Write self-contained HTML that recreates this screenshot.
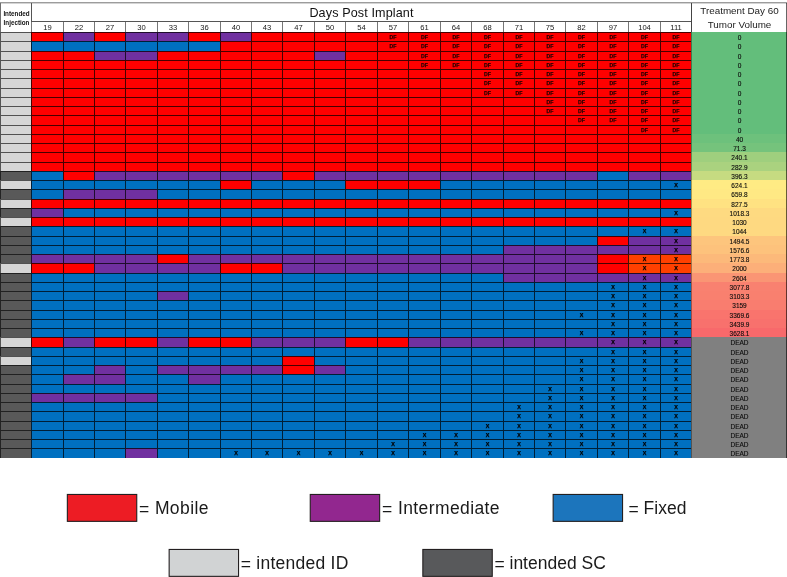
<!DOCTYPE html>
<html><head><meta charset="utf-8"><title>Days Post Implant</title>
<style>
html,body{margin:0;padding:0;background:#fff;}
body{width:787px;height:577px;overflow:hidden;position:relative;font-family:"Liberation Sans",sans-serif;color:#111;}
#w{position:absolute;left:0;top:0;width:787px;height:577px;overflow:hidden;will-change:transform;}
#w div{position:absolute;box-sizing:border-box;}
.c{border-left:1px solid rgba(0,0,0,.72);border-top:1px solid rgba(0,0,0,.72);text-align:center;font-weight:bold;overflow:hidden;white-space:nowrap;}
.r{background:#ff0000}.b{background:#0070c0}.p{background:#7030a0}.o{background:#ff4000}
.df{font-size:5.2px;line-height:9.4px;color:#2a0000;-webkit-text-stroke:0.25px #2a0000;}
.x{font-size:5.4px;line-height:8.4px;color:#000;-webkit-text-stroke:0.25px #000;}
.l{border-top:1px solid rgba(0,0,0,.62);border-left:1px solid rgba(0,0,0,.6);border-right:1px solid rgba(0,0,0,.8);}
.lg{background:#d6d6d6}.dg{background:#595959}
.v{text-align:center;font-size:6.5px;line-height:12.4px;padding-left:1px;color:#0c0c0c;-webkit-text-stroke:0.12px #0c0c0c;white-space:nowrap;overflow:hidden;}
.d{background:#fff;border-left:1px solid #777;text-align:center;font-size:7.6px;line-height:11px;color:#151515;}
.lb{font-size:17.5px;line-height:20px;color:#1a1a1a;white-space:nowrap;}
.bx{border:1px solid #231f20;}
</style></head><body><div id="w">

<div style="left:0;top:2px;width:787px;height:1px;background:#9c9c9c"></div>
<div style="left:0;top:3px;width:787px;height:1px;background:#d4d4d4"></div>
<div style="left:0;top:3px;width:32px;height:29px;border-left:1px solid #6e6e6e;border-right:1px solid #555;font-weight:bold;font-size:6.3px;line-height:9px;text-align:center;padding-top:6px;padding-left:1px;color:#111">Intended<br>Injection</div>
<div style="left:32px;top:3px;width:659px;height:18px;text-align:center;font-size:12.6px;letter-spacing:0.12px;line-height:18px;color:#111;padding-top:1px">Days Post Implant</div>
<div style="left:31px;top:21px;width:660px;height:1px;background:#555"></div>
<div class="d" style="left:31px;top:22px;width:32px;height:10px">19</div>
<div class="d" style="left:63px;top:22px;width:31px;height:10px">22</div>
<div class="d" style="left:94px;top:22px;width:31px;height:10px">27</div>
<div class="d" style="left:125px;top:22px;width:32px;height:10px">30</div>
<div class="d" style="left:157px;top:22px;width:31px;height:10px">33</div>
<div class="d" style="left:188px;top:22px;width:32px;height:10px">36</div>
<div class="d" style="left:220px;top:22px;width:31px;height:10px">40</div>
<div class="d" style="left:251px;top:22px;width:31px;height:10px">43</div>
<div class="d" style="left:282px;top:22px;width:32px;height:10px">47</div>
<div class="d" style="left:314px;top:22px;width:31px;height:10px">50</div>
<div class="d" style="left:345px;top:22px;width:32px;height:10px">54</div>
<div class="d" style="left:377px;top:22px;width:31px;height:10px">57</div>
<div class="d" style="left:408px;top:22px;width:32px;height:10px">61</div>
<div class="d" style="left:440px;top:22px;width:31px;height:10px">64</div>
<div class="d" style="left:471px;top:22px;width:32px;height:10px">68</div>
<div class="d" style="left:503px;top:22px;width:31px;height:10px">71</div>
<div class="d" style="left:534px;top:22px;width:31px;height:10px">75</div>
<div class="d" style="left:565px;top:22px;width:32px;height:10px">82</div>
<div class="d" style="left:597px;top:22px;width:31px;height:10px">97</div>
<div class="d" style="left:628px;top:22px;width:32px;height:10px">104</div>
<div class="d" style="left:660px;top:22px;width:31px;height:10px">111</div>
<div style="left:691px;top:3px;width:96px;height:29px;border-left:1px solid #444;text-align:center;font-size:9.85px;line-height:13.6px;color:#222;padding-top:1px">Treatment Day 60<br>Tumor Volume</div>
<div style="left:0;top:32px;width:787px;height:1px;background:#444"></div>
<div class="l lg" style="left:0;top:32px;width:32px;height:9px"></div>
<div class="c r" style="left:31px;top:32px;width:32px;height:9px"></div>
<div class="c p" style="left:63px;top:32px;width:31px;height:9px"></div>
<div class="c r" style="left:94px;top:32px;width:31px;height:9px"></div>
<div class="c p" style="left:125px;top:32px;width:32px;height:9px"></div>
<div class="c p" style="left:157px;top:32px;width:31px;height:9px"></div>
<div class="c r" style="left:188px;top:32px;width:32px;height:9px"></div>
<div class="c p" style="left:220px;top:32px;width:31px;height:9px"></div>
<div class="c r" style="left:251px;top:32px;width:31px;height:9px"></div>
<div class="c r" style="left:282px;top:32px;width:32px;height:9px"></div>
<div class="c r" style="left:314px;top:32px;width:31px;height:9px"></div>
<div class="c r" style="left:345px;top:32px;width:32px;height:9px"></div>
<div class="c r df" style="left:377px;top:32px;width:31px;height:9px">DF</div>
<div class="c r df" style="left:408px;top:32px;width:32px;height:9px">DF</div>
<div class="c r df" style="left:440px;top:32px;width:31px;height:9px">DF</div>
<div class="c r df" style="left:471px;top:32px;width:32px;height:9px">DF</div>
<div class="c r df" style="left:503px;top:32px;width:31px;height:9px">DF</div>
<div class="c r df" style="left:534px;top:32px;width:31px;height:9px">DF</div>
<div class="c r df" style="left:565px;top:32px;width:32px;height:9px">DF</div>
<div class="c r df" style="left:597px;top:32px;width:31px;height:9px">DF</div>
<div class="c r df" style="left:628px;top:32px;width:32px;height:9px">DF</div>
<div class="c r df" style="left:660px;top:32px;width:31px;height:9px">DF</div>
<div class="v" style="left:691px;top:32px;width:96px;height:9px;background:#63be7b">0</div>
<div class="l lg" style="left:0;top:41px;width:32px;height:10px"></div>
<div class="c b" style="left:31px;top:41px;width:32px;height:10px"></div>
<div class="c b" style="left:63px;top:41px;width:31px;height:10px"></div>
<div class="c b" style="left:94px;top:41px;width:31px;height:10px"></div>
<div class="c b" style="left:125px;top:41px;width:32px;height:10px"></div>
<div class="c b" style="left:157px;top:41px;width:31px;height:10px"></div>
<div class="c b" style="left:188px;top:41px;width:32px;height:10px"></div>
<div class="c r" style="left:220px;top:41px;width:31px;height:10px"></div>
<div class="c r" style="left:251px;top:41px;width:31px;height:10px"></div>
<div class="c r" style="left:282px;top:41px;width:32px;height:10px"></div>
<div class="c r" style="left:314px;top:41px;width:31px;height:10px"></div>
<div class="c r" style="left:345px;top:41px;width:32px;height:10px"></div>
<div class="c r df" style="left:377px;top:41px;width:31px;height:10px">DF</div>
<div class="c r df" style="left:408px;top:41px;width:32px;height:10px">DF</div>
<div class="c r df" style="left:440px;top:41px;width:31px;height:10px">DF</div>
<div class="c r df" style="left:471px;top:41px;width:32px;height:10px">DF</div>
<div class="c r df" style="left:503px;top:41px;width:31px;height:10px">DF</div>
<div class="c r df" style="left:534px;top:41px;width:31px;height:10px">DF</div>
<div class="c r df" style="left:565px;top:41px;width:32px;height:10px">DF</div>
<div class="c r df" style="left:597px;top:41px;width:31px;height:10px">DF</div>
<div class="c r df" style="left:628px;top:41px;width:32px;height:10px">DF</div>
<div class="c r df" style="left:660px;top:41px;width:31px;height:10px">DF</div>
<div class="v" style="left:691px;top:41px;width:96px;height:10px;background:#63be7b">0</div>
<div class="l lg" style="left:0;top:51px;width:32px;height:9px"></div>
<div class="c r" style="left:31px;top:51px;width:32px;height:9px"></div>
<div class="c r" style="left:63px;top:51px;width:31px;height:9px"></div>
<div class="c p" style="left:94px;top:51px;width:31px;height:9px"></div>
<div class="c p" style="left:125px;top:51px;width:32px;height:9px"></div>
<div class="c r" style="left:157px;top:51px;width:31px;height:9px"></div>
<div class="c r" style="left:188px;top:51px;width:32px;height:9px"></div>
<div class="c r" style="left:220px;top:51px;width:31px;height:9px"></div>
<div class="c r" style="left:251px;top:51px;width:31px;height:9px"></div>
<div class="c r" style="left:282px;top:51px;width:32px;height:9px"></div>
<div class="c p" style="left:314px;top:51px;width:31px;height:9px"></div>
<div class="c r" style="left:345px;top:51px;width:32px;height:9px"></div>
<div class="c r" style="left:377px;top:51px;width:31px;height:9px"></div>
<div class="c r df" style="left:408px;top:51px;width:32px;height:9px">DF</div>
<div class="c r df" style="left:440px;top:51px;width:31px;height:9px">DF</div>
<div class="c r df" style="left:471px;top:51px;width:32px;height:9px">DF</div>
<div class="c r df" style="left:503px;top:51px;width:31px;height:9px">DF</div>
<div class="c r df" style="left:534px;top:51px;width:31px;height:9px">DF</div>
<div class="c r df" style="left:565px;top:51px;width:32px;height:9px">DF</div>
<div class="c r df" style="left:597px;top:51px;width:31px;height:9px">DF</div>
<div class="c r df" style="left:628px;top:51px;width:32px;height:9px">DF</div>
<div class="c r df" style="left:660px;top:51px;width:31px;height:9px">DF</div>
<div class="v" style="left:691px;top:51px;width:96px;height:9px;background:#63be7b">0</div>
<div class="l lg" style="left:0;top:60px;width:32px;height:9px"></div>
<div class="c r" style="left:31px;top:60px;width:32px;height:9px"></div>
<div class="c r" style="left:63px;top:60px;width:31px;height:9px"></div>
<div class="c r" style="left:94px;top:60px;width:31px;height:9px"></div>
<div class="c r" style="left:125px;top:60px;width:32px;height:9px"></div>
<div class="c r" style="left:157px;top:60px;width:31px;height:9px"></div>
<div class="c r" style="left:188px;top:60px;width:32px;height:9px"></div>
<div class="c r" style="left:220px;top:60px;width:31px;height:9px"></div>
<div class="c r" style="left:251px;top:60px;width:31px;height:9px"></div>
<div class="c r" style="left:282px;top:60px;width:32px;height:9px"></div>
<div class="c r" style="left:314px;top:60px;width:31px;height:9px"></div>
<div class="c r" style="left:345px;top:60px;width:32px;height:9px"></div>
<div class="c r" style="left:377px;top:60px;width:31px;height:9px"></div>
<div class="c r df" style="left:408px;top:60px;width:32px;height:9px">DF</div>
<div class="c r df" style="left:440px;top:60px;width:31px;height:9px">DF</div>
<div class="c r df" style="left:471px;top:60px;width:32px;height:9px">DF</div>
<div class="c r df" style="left:503px;top:60px;width:31px;height:9px">DF</div>
<div class="c r df" style="left:534px;top:60px;width:31px;height:9px">DF</div>
<div class="c r df" style="left:565px;top:60px;width:32px;height:9px">DF</div>
<div class="c r df" style="left:597px;top:60px;width:31px;height:9px">DF</div>
<div class="c r df" style="left:628px;top:60px;width:32px;height:9px">DF</div>
<div class="c r df" style="left:660px;top:60px;width:31px;height:9px">DF</div>
<div class="v" style="left:691px;top:60px;width:96px;height:9px;background:#63be7b">0</div>
<div class="l lg" style="left:0;top:69px;width:32px;height:9px"></div>
<div class="c r" style="left:31px;top:69px;width:32px;height:9px"></div>
<div class="c r" style="left:63px;top:69px;width:31px;height:9px"></div>
<div class="c r" style="left:94px;top:69px;width:31px;height:9px"></div>
<div class="c r" style="left:125px;top:69px;width:32px;height:9px"></div>
<div class="c r" style="left:157px;top:69px;width:31px;height:9px"></div>
<div class="c r" style="left:188px;top:69px;width:32px;height:9px"></div>
<div class="c r" style="left:220px;top:69px;width:31px;height:9px"></div>
<div class="c r" style="left:251px;top:69px;width:31px;height:9px"></div>
<div class="c r" style="left:282px;top:69px;width:32px;height:9px"></div>
<div class="c r" style="left:314px;top:69px;width:31px;height:9px"></div>
<div class="c r" style="left:345px;top:69px;width:32px;height:9px"></div>
<div class="c r" style="left:377px;top:69px;width:31px;height:9px"></div>
<div class="c r" style="left:408px;top:69px;width:32px;height:9px"></div>
<div class="c r" style="left:440px;top:69px;width:31px;height:9px"></div>
<div class="c r df" style="left:471px;top:69px;width:32px;height:9px">DF</div>
<div class="c r df" style="left:503px;top:69px;width:31px;height:9px">DF</div>
<div class="c r df" style="left:534px;top:69px;width:31px;height:9px">DF</div>
<div class="c r df" style="left:565px;top:69px;width:32px;height:9px">DF</div>
<div class="c r df" style="left:597px;top:69px;width:31px;height:9px">DF</div>
<div class="c r df" style="left:628px;top:69px;width:32px;height:9px">DF</div>
<div class="c r df" style="left:660px;top:69px;width:31px;height:9px">DF</div>
<div class="v" style="left:691px;top:69px;width:96px;height:9px;background:#63be7b">0</div>
<div class="l lg" style="left:0;top:78px;width:32px;height:10px"></div>
<div class="c r" style="left:31px;top:78px;width:32px;height:10px"></div>
<div class="c r" style="left:63px;top:78px;width:31px;height:10px"></div>
<div class="c r" style="left:94px;top:78px;width:31px;height:10px"></div>
<div class="c r" style="left:125px;top:78px;width:32px;height:10px"></div>
<div class="c r" style="left:157px;top:78px;width:31px;height:10px"></div>
<div class="c r" style="left:188px;top:78px;width:32px;height:10px"></div>
<div class="c r" style="left:220px;top:78px;width:31px;height:10px"></div>
<div class="c r" style="left:251px;top:78px;width:31px;height:10px"></div>
<div class="c r" style="left:282px;top:78px;width:32px;height:10px"></div>
<div class="c r" style="left:314px;top:78px;width:31px;height:10px"></div>
<div class="c r" style="left:345px;top:78px;width:32px;height:10px"></div>
<div class="c r" style="left:377px;top:78px;width:31px;height:10px"></div>
<div class="c r" style="left:408px;top:78px;width:32px;height:10px"></div>
<div class="c r" style="left:440px;top:78px;width:31px;height:10px"></div>
<div class="c r df" style="left:471px;top:78px;width:32px;height:10px">DF</div>
<div class="c r df" style="left:503px;top:78px;width:31px;height:10px">DF</div>
<div class="c r df" style="left:534px;top:78px;width:31px;height:10px">DF</div>
<div class="c r df" style="left:565px;top:78px;width:32px;height:10px">DF</div>
<div class="c r df" style="left:597px;top:78px;width:31px;height:10px">DF</div>
<div class="c r df" style="left:628px;top:78px;width:32px;height:10px">DF</div>
<div class="c r df" style="left:660px;top:78px;width:31px;height:10px">DF</div>
<div class="v" style="left:691px;top:78px;width:96px;height:10px;background:#63be7b">0</div>
<div class="l lg" style="left:0;top:88px;width:32px;height:9px"></div>
<div class="c r" style="left:31px;top:88px;width:32px;height:9px"></div>
<div class="c r" style="left:63px;top:88px;width:31px;height:9px"></div>
<div class="c r" style="left:94px;top:88px;width:31px;height:9px"></div>
<div class="c r" style="left:125px;top:88px;width:32px;height:9px"></div>
<div class="c r" style="left:157px;top:88px;width:31px;height:9px"></div>
<div class="c r" style="left:188px;top:88px;width:32px;height:9px"></div>
<div class="c r" style="left:220px;top:88px;width:31px;height:9px"></div>
<div class="c r" style="left:251px;top:88px;width:31px;height:9px"></div>
<div class="c r" style="left:282px;top:88px;width:32px;height:9px"></div>
<div class="c r" style="left:314px;top:88px;width:31px;height:9px"></div>
<div class="c r" style="left:345px;top:88px;width:32px;height:9px"></div>
<div class="c r" style="left:377px;top:88px;width:31px;height:9px"></div>
<div class="c r" style="left:408px;top:88px;width:32px;height:9px"></div>
<div class="c r" style="left:440px;top:88px;width:31px;height:9px"></div>
<div class="c r df" style="left:471px;top:88px;width:32px;height:9px">DF</div>
<div class="c r df" style="left:503px;top:88px;width:31px;height:9px">DF</div>
<div class="c r df" style="left:534px;top:88px;width:31px;height:9px">DF</div>
<div class="c r df" style="left:565px;top:88px;width:32px;height:9px">DF</div>
<div class="c r df" style="left:597px;top:88px;width:31px;height:9px">DF</div>
<div class="c r df" style="left:628px;top:88px;width:32px;height:9px">DF</div>
<div class="c r df" style="left:660px;top:88px;width:31px;height:9px">DF</div>
<div class="v" style="left:691px;top:88px;width:96px;height:9px;background:#63be7b">0</div>
<div class="l lg" style="left:0;top:97px;width:32px;height:9px"></div>
<div class="c r" style="left:31px;top:97px;width:32px;height:9px"></div>
<div class="c r" style="left:63px;top:97px;width:31px;height:9px"></div>
<div class="c r" style="left:94px;top:97px;width:31px;height:9px"></div>
<div class="c r" style="left:125px;top:97px;width:32px;height:9px"></div>
<div class="c r" style="left:157px;top:97px;width:31px;height:9px"></div>
<div class="c r" style="left:188px;top:97px;width:32px;height:9px"></div>
<div class="c r" style="left:220px;top:97px;width:31px;height:9px"></div>
<div class="c r" style="left:251px;top:97px;width:31px;height:9px"></div>
<div class="c r" style="left:282px;top:97px;width:32px;height:9px"></div>
<div class="c r" style="left:314px;top:97px;width:31px;height:9px"></div>
<div class="c r" style="left:345px;top:97px;width:32px;height:9px"></div>
<div class="c r" style="left:377px;top:97px;width:31px;height:9px"></div>
<div class="c r" style="left:408px;top:97px;width:32px;height:9px"></div>
<div class="c r" style="left:440px;top:97px;width:31px;height:9px"></div>
<div class="c r" style="left:471px;top:97px;width:32px;height:9px"></div>
<div class="c r" style="left:503px;top:97px;width:31px;height:9px"></div>
<div class="c r df" style="left:534px;top:97px;width:31px;height:9px">DF</div>
<div class="c r df" style="left:565px;top:97px;width:32px;height:9px">DF</div>
<div class="c r df" style="left:597px;top:97px;width:31px;height:9px">DF</div>
<div class="c r df" style="left:628px;top:97px;width:32px;height:9px">DF</div>
<div class="c r df" style="left:660px;top:97px;width:31px;height:9px">DF</div>
<div class="v" style="left:691px;top:97px;width:96px;height:9px;background:#63be7b">0</div>
<div class="l lg" style="left:0;top:106px;width:32px;height:9px"></div>
<div class="c r" style="left:31px;top:106px;width:32px;height:9px"></div>
<div class="c r" style="left:63px;top:106px;width:31px;height:9px"></div>
<div class="c r" style="left:94px;top:106px;width:31px;height:9px"></div>
<div class="c r" style="left:125px;top:106px;width:32px;height:9px"></div>
<div class="c r" style="left:157px;top:106px;width:31px;height:9px"></div>
<div class="c r" style="left:188px;top:106px;width:32px;height:9px"></div>
<div class="c r" style="left:220px;top:106px;width:31px;height:9px"></div>
<div class="c r" style="left:251px;top:106px;width:31px;height:9px"></div>
<div class="c r" style="left:282px;top:106px;width:32px;height:9px"></div>
<div class="c r" style="left:314px;top:106px;width:31px;height:9px"></div>
<div class="c r" style="left:345px;top:106px;width:32px;height:9px"></div>
<div class="c r" style="left:377px;top:106px;width:31px;height:9px"></div>
<div class="c r" style="left:408px;top:106px;width:32px;height:9px"></div>
<div class="c r" style="left:440px;top:106px;width:31px;height:9px"></div>
<div class="c r" style="left:471px;top:106px;width:32px;height:9px"></div>
<div class="c r" style="left:503px;top:106px;width:31px;height:9px"></div>
<div class="c r df" style="left:534px;top:106px;width:31px;height:9px">DF</div>
<div class="c r df" style="left:565px;top:106px;width:32px;height:9px">DF</div>
<div class="c r df" style="left:597px;top:106px;width:31px;height:9px">DF</div>
<div class="c r df" style="left:628px;top:106px;width:32px;height:9px">DF</div>
<div class="c r df" style="left:660px;top:106px;width:31px;height:9px">DF</div>
<div class="v" style="left:691px;top:106px;width:96px;height:9px;background:#63be7b">0</div>
<div class="l lg" style="left:0;top:115px;width:32px;height:10px"></div>
<div class="c r" style="left:31px;top:115px;width:32px;height:10px"></div>
<div class="c r" style="left:63px;top:115px;width:31px;height:10px"></div>
<div class="c r" style="left:94px;top:115px;width:31px;height:10px"></div>
<div class="c r" style="left:125px;top:115px;width:32px;height:10px"></div>
<div class="c r" style="left:157px;top:115px;width:31px;height:10px"></div>
<div class="c r" style="left:188px;top:115px;width:32px;height:10px"></div>
<div class="c r" style="left:220px;top:115px;width:31px;height:10px"></div>
<div class="c r" style="left:251px;top:115px;width:31px;height:10px"></div>
<div class="c r" style="left:282px;top:115px;width:32px;height:10px"></div>
<div class="c r" style="left:314px;top:115px;width:31px;height:10px"></div>
<div class="c r" style="left:345px;top:115px;width:32px;height:10px"></div>
<div class="c r" style="left:377px;top:115px;width:31px;height:10px"></div>
<div class="c r" style="left:408px;top:115px;width:32px;height:10px"></div>
<div class="c r" style="left:440px;top:115px;width:31px;height:10px"></div>
<div class="c r" style="left:471px;top:115px;width:32px;height:10px"></div>
<div class="c r" style="left:503px;top:115px;width:31px;height:10px"></div>
<div class="c r" style="left:534px;top:115px;width:31px;height:10px"></div>
<div class="c r df" style="left:565px;top:115px;width:32px;height:10px">DF</div>
<div class="c r df" style="left:597px;top:115px;width:31px;height:10px">DF</div>
<div class="c r df" style="left:628px;top:115px;width:32px;height:10px">DF</div>
<div class="c r df" style="left:660px;top:115px;width:31px;height:10px">DF</div>
<div class="v" style="left:691px;top:115px;width:96px;height:10px;background:#63be7b">0</div>
<div class="l lg" style="left:0;top:125px;width:32px;height:9px"></div>
<div class="c r" style="left:31px;top:125px;width:32px;height:9px"></div>
<div class="c r" style="left:63px;top:125px;width:31px;height:9px"></div>
<div class="c r" style="left:94px;top:125px;width:31px;height:9px"></div>
<div class="c r" style="left:125px;top:125px;width:32px;height:9px"></div>
<div class="c r" style="left:157px;top:125px;width:31px;height:9px"></div>
<div class="c r" style="left:188px;top:125px;width:32px;height:9px"></div>
<div class="c r" style="left:220px;top:125px;width:31px;height:9px"></div>
<div class="c r" style="left:251px;top:125px;width:31px;height:9px"></div>
<div class="c r" style="left:282px;top:125px;width:32px;height:9px"></div>
<div class="c r" style="left:314px;top:125px;width:31px;height:9px"></div>
<div class="c r" style="left:345px;top:125px;width:32px;height:9px"></div>
<div class="c r" style="left:377px;top:125px;width:31px;height:9px"></div>
<div class="c r" style="left:408px;top:125px;width:32px;height:9px"></div>
<div class="c r" style="left:440px;top:125px;width:31px;height:9px"></div>
<div class="c r" style="left:471px;top:125px;width:32px;height:9px"></div>
<div class="c r" style="left:503px;top:125px;width:31px;height:9px"></div>
<div class="c r" style="left:534px;top:125px;width:31px;height:9px"></div>
<div class="c r" style="left:565px;top:125px;width:32px;height:9px"></div>
<div class="c r" style="left:597px;top:125px;width:31px;height:9px"></div>
<div class="c r df" style="left:628px;top:125px;width:32px;height:9px">DF</div>
<div class="c r df" style="left:660px;top:125px;width:31px;height:9px">DF</div>
<div class="v" style="left:691px;top:125px;width:96px;height:9px;background:#63be7b">0</div>
<div class="l lg" style="left:0;top:134px;width:32px;height:9px"></div>
<div class="c r" style="left:31px;top:134px;width:32px;height:9px"></div>
<div class="c r" style="left:63px;top:134px;width:31px;height:9px"></div>
<div class="c r" style="left:94px;top:134px;width:31px;height:9px"></div>
<div class="c r" style="left:125px;top:134px;width:32px;height:9px"></div>
<div class="c r" style="left:157px;top:134px;width:31px;height:9px"></div>
<div class="c r" style="left:188px;top:134px;width:32px;height:9px"></div>
<div class="c r" style="left:220px;top:134px;width:31px;height:9px"></div>
<div class="c r" style="left:251px;top:134px;width:31px;height:9px"></div>
<div class="c r" style="left:282px;top:134px;width:32px;height:9px"></div>
<div class="c r" style="left:314px;top:134px;width:31px;height:9px"></div>
<div class="c r" style="left:345px;top:134px;width:32px;height:9px"></div>
<div class="c r" style="left:377px;top:134px;width:31px;height:9px"></div>
<div class="c r" style="left:408px;top:134px;width:32px;height:9px"></div>
<div class="c r" style="left:440px;top:134px;width:31px;height:9px"></div>
<div class="c r" style="left:471px;top:134px;width:32px;height:9px"></div>
<div class="c r" style="left:503px;top:134px;width:31px;height:9px"></div>
<div class="c r" style="left:534px;top:134px;width:31px;height:9px"></div>
<div class="c r" style="left:565px;top:134px;width:32px;height:9px"></div>
<div class="c r" style="left:597px;top:134px;width:31px;height:9px"></div>
<div class="c r" style="left:628px;top:134px;width:32px;height:9px"></div>
<div class="c r" style="left:660px;top:134px;width:31px;height:9px"></div>
<div class="v" style="left:691px;top:134px;width:96px;height:9px;background:#6dc17c">40</div>
<div class="l lg" style="left:0;top:143px;width:32px;height:9px"></div>
<div class="c r" style="left:31px;top:143px;width:32px;height:9px"></div>
<div class="c r" style="left:63px;top:143px;width:31px;height:9px"></div>
<div class="c r" style="left:94px;top:143px;width:31px;height:9px"></div>
<div class="c r" style="left:125px;top:143px;width:32px;height:9px"></div>
<div class="c r" style="left:157px;top:143px;width:31px;height:9px"></div>
<div class="c r" style="left:188px;top:143px;width:32px;height:9px"></div>
<div class="c r" style="left:220px;top:143px;width:31px;height:9px"></div>
<div class="c r" style="left:251px;top:143px;width:31px;height:9px"></div>
<div class="c r" style="left:282px;top:143px;width:32px;height:9px"></div>
<div class="c r" style="left:314px;top:143px;width:31px;height:9px"></div>
<div class="c r" style="left:345px;top:143px;width:32px;height:9px"></div>
<div class="c r" style="left:377px;top:143px;width:31px;height:9px"></div>
<div class="c r" style="left:408px;top:143px;width:32px;height:9px"></div>
<div class="c r" style="left:440px;top:143px;width:31px;height:9px"></div>
<div class="c r" style="left:471px;top:143px;width:32px;height:9px"></div>
<div class="c r" style="left:503px;top:143px;width:31px;height:9px"></div>
<div class="c r" style="left:534px;top:143px;width:31px;height:9px"></div>
<div class="c r" style="left:565px;top:143px;width:32px;height:9px"></div>
<div class="c r" style="left:597px;top:143px;width:31px;height:9px"></div>
<div class="c r" style="left:628px;top:143px;width:32px;height:9px"></div>
<div class="c r" style="left:660px;top:143px;width:31px;height:9px"></div>
<div class="v" style="left:691px;top:143px;width:96px;height:9px;background:#75c37c">71.3</div>
<div class="l lg" style="left:0;top:152px;width:32px;height:10px"></div>
<div class="c r" style="left:31px;top:152px;width:32px;height:10px"></div>
<div class="c r" style="left:63px;top:152px;width:31px;height:10px"></div>
<div class="c r" style="left:94px;top:152px;width:31px;height:10px"></div>
<div class="c r" style="left:125px;top:152px;width:32px;height:10px"></div>
<div class="c r" style="left:157px;top:152px;width:31px;height:10px"></div>
<div class="c r" style="left:188px;top:152px;width:32px;height:10px"></div>
<div class="c r" style="left:220px;top:152px;width:31px;height:10px"></div>
<div class="c r" style="left:251px;top:152px;width:31px;height:10px"></div>
<div class="c r" style="left:282px;top:152px;width:32px;height:10px"></div>
<div class="c r" style="left:314px;top:152px;width:31px;height:10px"></div>
<div class="c r" style="left:345px;top:152px;width:32px;height:10px"></div>
<div class="c r" style="left:377px;top:152px;width:31px;height:10px"></div>
<div class="c r" style="left:408px;top:152px;width:32px;height:10px"></div>
<div class="c r" style="left:440px;top:152px;width:31px;height:10px"></div>
<div class="c r" style="left:471px;top:152px;width:32px;height:10px"></div>
<div class="c r" style="left:503px;top:152px;width:31px;height:10px"></div>
<div class="c r" style="left:534px;top:152px;width:31px;height:10px"></div>
<div class="c r" style="left:565px;top:152px;width:32px;height:10px"></div>
<div class="c r" style="left:597px;top:152px;width:31px;height:10px"></div>
<div class="c r" style="left:628px;top:152px;width:32px;height:10px"></div>
<div class="c r" style="left:660px;top:152px;width:31px;height:10px"></div>
<div class="v" style="left:691px;top:152px;width:96px;height:10px;background:#9fcf7e">240.1</div>
<div class="l lg" style="left:0;top:162px;width:32px;height:9px"></div>
<div class="c r" style="left:31px;top:162px;width:32px;height:9px"></div>
<div class="c r" style="left:63px;top:162px;width:31px;height:9px"></div>
<div class="c r" style="left:94px;top:162px;width:31px;height:9px"></div>
<div class="c r" style="left:125px;top:162px;width:32px;height:9px"></div>
<div class="c r" style="left:157px;top:162px;width:31px;height:9px"></div>
<div class="c r" style="left:188px;top:162px;width:32px;height:9px"></div>
<div class="c r" style="left:220px;top:162px;width:31px;height:9px"></div>
<div class="c r" style="left:251px;top:162px;width:31px;height:9px"></div>
<div class="c r" style="left:282px;top:162px;width:32px;height:9px"></div>
<div class="c r" style="left:314px;top:162px;width:31px;height:9px"></div>
<div class="c r" style="left:345px;top:162px;width:32px;height:9px"></div>
<div class="c r" style="left:377px;top:162px;width:31px;height:9px"></div>
<div class="c r" style="left:408px;top:162px;width:32px;height:9px"></div>
<div class="c r" style="left:440px;top:162px;width:31px;height:9px"></div>
<div class="c r" style="left:471px;top:162px;width:32px;height:9px"></div>
<div class="c r" style="left:503px;top:162px;width:31px;height:9px"></div>
<div class="c r" style="left:534px;top:162px;width:31px;height:9px"></div>
<div class="c r" style="left:565px;top:162px;width:32px;height:9px"></div>
<div class="c r" style="left:597px;top:162px;width:31px;height:9px"></div>
<div class="c r" style="left:628px;top:162px;width:32px;height:9px"></div>
<div class="c r" style="left:660px;top:162px;width:31px;height:9px"></div>
<div class="v" style="left:691px;top:162px;width:96px;height:9px;background:#aad27f">282.9</div>
<div class="l dg" style="left:0;top:171px;width:32px;height:9px"></div>
<div class="c b" style="left:31px;top:171px;width:32px;height:9px"></div>
<div class="c r" style="left:63px;top:171px;width:31px;height:9px"></div>
<div class="c p" style="left:94px;top:171px;width:31px;height:9px"></div>
<div class="c p" style="left:125px;top:171px;width:32px;height:9px"></div>
<div class="c p" style="left:157px;top:171px;width:31px;height:9px"></div>
<div class="c p" style="left:188px;top:171px;width:32px;height:9px"></div>
<div class="c p" style="left:220px;top:171px;width:31px;height:9px"></div>
<div class="c p" style="left:251px;top:171px;width:31px;height:9px"></div>
<div class="c r" style="left:282px;top:171px;width:32px;height:9px"></div>
<div class="c p" style="left:314px;top:171px;width:31px;height:9px"></div>
<div class="c p" style="left:345px;top:171px;width:32px;height:9px"></div>
<div class="c p" style="left:377px;top:171px;width:31px;height:9px"></div>
<div class="c p" style="left:408px;top:171px;width:32px;height:9px"></div>
<div class="c p" style="left:440px;top:171px;width:31px;height:9px"></div>
<div class="c p" style="left:471px;top:171px;width:32px;height:9px"></div>
<div class="c p" style="left:503px;top:171px;width:31px;height:9px"></div>
<div class="c p" style="left:534px;top:171px;width:31px;height:9px"></div>
<div class="c p" style="left:565px;top:171px;width:32px;height:9px"></div>
<div class="c b" style="left:597px;top:171px;width:31px;height:9px"></div>
<div class="c p" style="left:628px;top:171px;width:32px;height:9px"></div>
<div class="c p" style="left:660px;top:171px;width:31px;height:9px"></div>
<div class="v" style="left:691px;top:171px;width:96px;height:9px;background:#c6db81">396.3</div>
<div class="l lg" style="left:0;top:180px;width:32px;height:9px"></div>
<div class="c b" style="left:31px;top:180px;width:32px;height:9px"></div>
<div class="c b" style="left:63px;top:180px;width:31px;height:9px"></div>
<div class="c b" style="left:94px;top:180px;width:31px;height:9px"></div>
<div class="c b" style="left:125px;top:180px;width:32px;height:9px"></div>
<div class="c b" style="left:157px;top:180px;width:31px;height:9px"></div>
<div class="c b" style="left:188px;top:180px;width:32px;height:9px"></div>
<div class="c r" style="left:220px;top:180px;width:31px;height:9px"></div>
<div class="c b" style="left:251px;top:180px;width:31px;height:9px"></div>
<div class="c b" style="left:282px;top:180px;width:32px;height:9px"></div>
<div class="c b" style="left:314px;top:180px;width:31px;height:9px"></div>
<div class="c r" style="left:345px;top:180px;width:32px;height:9px"></div>
<div class="c r" style="left:377px;top:180px;width:31px;height:9px"></div>
<div class="c r" style="left:408px;top:180px;width:32px;height:9px"></div>
<div class="c b" style="left:440px;top:180px;width:31px;height:9px"></div>
<div class="c b" style="left:471px;top:180px;width:32px;height:9px"></div>
<div class="c b" style="left:503px;top:180px;width:31px;height:9px"></div>
<div class="c b" style="left:534px;top:180px;width:31px;height:9px"></div>
<div class="c b" style="left:565px;top:180px;width:32px;height:9px"></div>
<div class="c b" style="left:597px;top:180px;width:31px;height:9px"></div>
<div class="c b" style="left:628px;top:180px;width:32px;height:9px"></div>
<div class="c b x" style="left:660px;top:180px;width:31px;height:9px">X</div>
<div class="v" style="left:691px;top:180px;width:96px;height:9px;background:#ffeb84">624.1</div>
<div class="l dg" style="left:0;top:189px;width:32px;height:10px"></div>
<div class="c b" style="left:31px;top:189px;width:32px;height:10px"></div>
<div class="c p" style="left:63px;top:189px;width:31px;height:10px"></div>
<div class="c p" style="left:94px;top:189px;width:31px;height:10px"></div>
<div class="c p" style="left:125px;top:189px;width:32px;height:10px"></div>
<div class="c b" style="left:157px;top:189px;width:31px;height:10px"></div>
<div class="c b" style="left:188px;top:189px;width:32px;height:10px"></div>
<div class="c b" style="left:220px;top:189px;width:31px;height:10px"></div>
<div class="c b" style="left:251px;top:189px;width:31px;height:10px"></div>
<div class="c b" style="left:282px;top:189px;width:32px;height:10px"></div>
<div class="c b" style="left:314px;top:189px;width:31px;height:10px"></div>
<div class="c b" style="left:345px;top:189px;width:32px;height:10px"></div>
<div class="c b" style="left:377px;top:189px;width:31px;height:10px"></div>
<div class="c b" style="left:408px;top:189px;width:32px;height:10px"></div>
<div class="c b" style="left:440px;top:189px;width:31px;height:10px"></div>
<div class="c b" style="left:471px;top:189px;width:32px;height:10px"></div>
<div class="c b" style="left:503px;top:189px;width:31px;height:10px"></div>
<div class="c b" style="left:534px;top:189px;width:31px;height:10px"></div>
<div class="c b" style="left:565px;top:189px;width:32px;height:10px"></div>
<div class="c b" style="left:597px;top:189px;width:31px;height:10px"></div>
<div class="c b" style="left:628px;top:189px;width:32px;height:10px"></div>
<div class="c b" style="left:660px;top:189px;width:31px;height:10px"></div>
<div class="v" style="left:691px;top:189px;width:96px;height:10px;background:#ffe984">659.8</div>
<div class="l lg" style="left:0;top:199px;width:32px;height:9px"></div>
<div class="c r" style="left:31px;top:199px;width:32px;height:9px"></div>
<div class="c r" style="left:63px;top:199px;width:31px;height:9px"></div>
<div class="c r" style="left:94px;top:199px;width:31px;height:9px"></div>
<div class="c r" style="left:125px;top:199px;width:32px;height:9px"></div>
<div class="c r" style="left:157px;top:199px;width:31px;height:9px"></div>
<div class="c r" style="left:188px;top:199px;width:32px;height:9px"></div>
<div class="c r" style="left:220px;top:199px;width:31px;height:9px"></div>
<div class="c r" style="left:251px;top:199px;width:31px;height:9px"></div>
<div class="c r" style="left:282px;top:199px;width:32px;height:9px"></div>
<div class="c r" style="left:314px;top:199px;width:31px;height:9px"></div>
<div class="c r" style="left:345px;top:199px;width:32px;height:9px"></div>
<div class="c r" style="left:377px;top:199px;width:31px;height:9px"></div>
<div class="c r" style="left:408px;top:199px;width:32px;height:9px"></div>
<div class="c r" style="left:440px;top:199px;width:31px;height:9px"></div>
<div class="c r" style="left:471px;top:199px;width:32px;height:9px"></div>
<div class="c r" style="left:503px;top:199px;width:31px;height:9px"></div>
<div class="c r" style="left:534px;top:199px;width:31px;height:9px"></div>
<div class="c r" style="left:565px;top:199px;width:32px;height:9px"></div>
<div class="c r" style="left:597px;top:199px;width:31px;height:9px"></div>
<div class="c r" style="left:628px;top:199px;width:32px;height:9px"></div>
<div class="c r" style="left:660px;top:199px;width:31px;height:9px"></div>
<div class="v" style="left:691px;top:199px;width:96px;height:9px;background:#ffe282">827.5</div>
<div class="l dg" style="left:0;top:208px;width:32px;height:9px"></div>
<div class="c p" style="left:31px;top:208px;width:32px;height:9px"></div>
<div class="c b" style="left:63px;top:208px;width:31px;height:9px"></div>
<div class="c b" style="left:94px;top:208px;width:31px;height:9px"></div>
<div class="c b" style="left:125px;top:208px;width:32px;height:9px"></div>
<div class="c b" style="left:157px;top:208px;width:31px;height:9px"></div>
<div class="c b" style="left:188px;top:208px;width:32px;height:9px"></div>
<div class="c b" style="left:220px;top:208px;width:31px;height:9px"></div>
<div class="c b" style="left:251px;top:208px;width:31px;height:9px"></div>
<div class="c b" style="left:282px;top:208px;width:32px;height:9px"></div>
<div class="c b" style="left:314px;top:208px;width:31px;height:9px"></div>
<div class="c b" style="left:345px;top:208px;width:32px;height:9px"></div>
<div class="c b" style="left:377px;top:208px;width:31px;height:9px"></div>
<div class="c b" style="left:408px;top:208px;width:32px;height:9px"></div>
<div class="c b" style="left:440px;top:208px;width:31px;height:9px"></div>
<div class="c b" style="left:471px;top:208px;width:32px;height:9px"></div>
<div class="c b" style="left:503px;top:208px;width:31px;height:9px"></div>
<div class="c b" style="left:534px;top:208px;width:31px;height:9px"></div>
<div class="c b" style="left:565px;top:208px;width:32px;height:9px"></div>
<div class="c b" style="left:597px;top:208px;width:31px;height:9px"></div>
<div class="c b" style="left:628px;top:208px;width:32px;height:9px"></div>
<div class="c b x" style="left:660px;top:208px;width:31px;height:9px">X</div>
<div class="v" style="left:691px;top:208px;width:96px;height:9px;background:#feda81">1018.3</div>
<div class="l lg" style="left:0;top:217px;width:32px;height:9px"></div>
<div class="c r" style="left:31px;top:217px;width:32px;height:9px"></div>
<div class="c r" style="left:63px;top:217px;width:31px;height:9px"></div>
<div class="c r" style="left:94px;top:217px;width:31px;height:9px"></div>
<div class="c r" style="left:125px;top:217px;width:32px;height:9px"></div>
<div class="c r" style="left:157px;top:217px;width:31px;height:9px"></div>
<div class="c r" style="left:188px;top:217px;width:32px;height:9px"></div>
<div class="c r" style="left:220px;top:217px;width:31px;height:9px"></div>
<div class="c r" style="left:251px;top:217px;width:31px;height:9px"></div>
<div class="c r" style="left:282px;top:217px;width:32px;height:9px"></div>
<div class="c r" style="left:314px;top:217px;width:31px;height:9px"></div>
<div class="c r" style="left:345px;top:217px;width:32px;height:9px"></div>
<div class="c r" style="left:377px;top:217px;width:31px;height:9px"></div>
<div class="c r" style="left:408px;top:217px;width:32px;height:9px"></div>
<div class="c r" style="left:440px;top:217px;width:31px;height:9px"></div>
<div class="c r" style="left:471px;top:217px;width:32px;height:9px"></div>
<div class="c r" style="left:503px;top:217px;width:31px;height:9px"></div>
<div class="c r" style="left:534px;top:217px;width:31px;height:9px"></div>
<div class="c r" style="left:565px;top:217px;width:32px;height:9px"></div>
<div class="c r" style="left:597px;top:217px;width:31px;height:9px"></div>
<div class="c r" style="left:628px;top:217px;width:32px;height:9px"></div>
<div class="c r" style="left:660px;top:217px;width:31px;height:9px"></div>
<div class="v" style="left:691px;top:217px;width:96px;height:9px;background:#fed981">1030</div>
<div class="l dg" style="left:0;top:226px;width:32px;height:10px"></div>
<div class="c b" style="left:31px;top:226px;width:32px;height:10px"></div>
<div class="c b" style="left:63px;top:226px;width:31px;height:10px"></div>
<div class="c b" style="left:94px;top:226px;width:31px;height:10px"></div>
<div class="c b" style="left:125px;top:226px;width:32px;height:10px"></div>
<div class="c b" style="left:157px;top:226px;width:31px;height:10px"></div>
<div class="c b" style="left:188px;top:226px;width:32px;height:10px"></div>
<div class="c b" style="left:220px;top:226px;width:31px;height:10px"></div>
<div class="c b" style="left:251px;top:226px;width:31px;height:10px"></div>
<div class="c b" style="left:282px;top:226px;width:32px;height:10px"></div>
<div class="c b" style="left:314px;top:226px;width:31px;height:10px"></div>
<div class="c b" style="left:345px;top:226px;width:32px;height:10px"></div>
<div class="c b" style="left:377px;top:226px;width:31px;height:10px"></div>
<div class="c b" style="left:408px;top:226px;width:32px;height:10px"></div>
<div class="c b" style="left:440px;top:226px;width:31px;height:10px"></div>
<div class="c b" style="left:471px;top:226px;width:32px;height:10px"></div>
<div class="c b" style="left:503px;top:226px;width:31px;height:10px"></div>
<div class="c b" style="left:534px;top:226px;width:31px;height:10px"></div>
<div class="c b" style="left:565px;top:226px;width:32px;height:10px"></div>
<div class="c b" style="left:597px;top:226px;width:31px;height:10px"></div>
<div class="c b x" style="left:628px;top:226px;width:32px;height:10px">X</div>
<div class="c b x" style="left:660px;top:226px;width:31px;height:10px">X</div>
<div class="v" style="left:691px;top:226px;width:96px;height:10px;background:#fed981">1044</div>
<div class="l dg" style="left:0;top:236px;width:32px;height:9px"></div>
<div class="c b" style="left:31px;top:236px;width:32px;height:9px"></div>
<div class="c b" style="left:63px;top:236px;width:31px;height:9px"></div>
<div class="c b" style="left:94px;top:236px;width:31px;height:9px"></div>
<div class="c b" style="left:125px;top:236px;width:32px;height:9px"></div>
<div class="c b" style="left:157px;top:236px;width:31px;height:9px"></div>
<div class="c b" style="left:188px;top:236px;width:32px;height:9px"></div>
<div class="c b" style="left:220px;top:236px;width:31px;height:9px"></div>
<div class="c b" style="left:251px;top:236px;width:31px;height:9px"></div>
<div class="c b" style="left:282px;top:236px;width:32px;height:9px"></div>
<div class="c b" style="left:314px;top:236px;width:31px;height:9px"></div>
<div class="c b" style="left:345px;top:236px;width:32px;height:9px"></div>
<div class="c b" style="left:377px;top:236px;width:31px;height:9px"></div>
<div class="c b" style="left:408px;top:236px;width:32px;height:9px"></div>
<div class="c b" style="left:440px;top:236px;width:31px;height:9px"></div>
<div class="c b" style="left:471px;top:236px;width:32px;height:9px"></div>
<div class="c b" style="left:503px;top:236px;width:31px;height:9px"></div>
<div class="c b" style="left:534px;top:236px;width:31px;height:9px"></div>
<div class="c b" style="left:565px;top:236px;width:32px;height:9px"></div>
<div class="c r" style="left:597px;top:236px;width:31px;height:9px"></div>
<div class="c p" style="left:628px;top:236px;width:32px;height:9px"></div>
<div class="c p x" style="left:660px;top:236px;width:31px;height:9px">X</div>
<div class="v" style="left:691px;top:236px;width:96px;height:9px;background:#fdc57d">1494.5</div>
<div class="l dg" style="left:0;top:245px;width:32px;height:9px"></div>
<div class="c b" style="left:31px;top:245px;width:32px;height:9px"></div>
<div class="c b" style="left:63px;top:245px;width:31px;height:9px"></div>
<div class="c b" style="left:94px;top:245px;width:31px;height:9px"></div>
<div class="c b" style="left:125px;top:245px;width:32px;height:9px"></div>
<div class="c b" style="left:157px;top:245px;width:31px;height:9px"></div>
<div class="c b" style="left:188px;top:245px;width:32px;height:9px"></div>
<div class="c b" style="left:220px;top:245px;width:31px;height:9px"></div>
<div class="c b" style="left:251px;top:245px;width:31px;height:9px"></div>
<div class="c b" style="left:282px;top:245px;width:32px;height:9px"></div>
<div class="c b" style="left:314px;top:245px;width:31px;height:9px"></div>
<div class="c b" style="left:345px;top:245px;width:32px;height:9px"></div>
<div class="c b" style="left:377px;top:245px;width:31px;height:9px"></div>
<div class="c b" style="left:408px;top:245px;width:32px;height:9px"></div>
<div class="c b" style="left:440px;top:245px;width:31px;height:9px"></div>
<div class="c b" style="left:471px;top:245px;width:32px;height:9px"></div>
<div class="c p" style="left:503px;top:245px;width:31px;height:9px"></div>
<div class="c p" style="left:534px;top:245px;width:31px;height:9px"></div>
<div class="c p" style="left:565px;top:245px;width:32px;height:9px"></div>
<div class="c p" style="left:597px;top:245px;width:31px;height:9px"></div>
<div class="c p" style="left:628px;top:245px;width:32px;height:9px"></div>
<div class="c p x" style="left:660px;top:245px;width:31px;height:9px">X</div>
<div class="v" style="left:691px;top:245px;width:96px;height:9px;background:#fdc27c">1576.6</div>
<div class="l dg" style="left:0;top:254px;width:32px;height:9px"></div>
<div class="c p" style="left:31px;top:254px;width:32px;height:9px"></div>
<div class="c p" style="left:63px;top:254px;width:31px;height:9px"></div>
<div class="c p" style="left:94px;top:254px;width:31px;height:9px"></div>
<div class="c p" style="left:125px;top:254px;width:32px;height:9px"></div>
<div class="c r" style="left:157px;top:254px;width:31px;height:9px"></div>
<div class="c p" style="left:188px;top:254px;width:32px;height:9px"></div>
<div class="c p" style="left:220px;top:254px;width:31px;height:9px"></div>
<div class="c p" style="left:251px;top:254px;width:31px;height:9px"></div>
<div class="c p" style="left:282px;top:254px;width:32px;height:9px"></div>
<div class="c p" style="left:314px;top:254px;width:31px;height:9px"></div>
<div class="c p" style="left:345px;top:254px;width:32px;height:9px"></div>
<div class="c p" style="left:377px;top:254px;width:31px;height:9px"></div>
<div class="c p" style="left:408px;top:254px;width:32px;height:9px"></div>
<div class="c p" style="left:440px;top:254px;width:31px;height:9px"></div>
<div class="c p" style="left:471px;top:254px;width:32px;height:9px"></div>
<div class="c p" style="left:503px;top:254px;width:31px;height:9px"></div>
<div class="c p" style="left:534px;top:254px;width:31px;height:9px"></div>
<div class="c p" style="left:565px;top:254px;width:32px;height:9px"></div>
<div class="c r" style="left:597px;top:254px;width:31px;height:9px"></div>
<div class="c o x" style="left:628px;top:254px;width:32px;height:9px">X</div>
<div class="c o x" style="left:660px;top:254px;width:31px;height:9px">X</div>
<div class="v" style="left:691px;top:254px;width:96px;height:9px;background:#fcb97a">1773.8</div>
<div class="l lg" style="left:0;top:263px;width:32px;height:10px"></div>
<div class="c r" style="left:31px;top:263px;width:32px;height:10px"></div>
<div class="c r" style="left:63px;top:263px;width:31px;height:10px"></div>
<div class="c p" style="left:94px;top:263px;width:31px;height:10px"></div>
<div class="c p" style="left:125px;top:263px;width:32px;height:10px"></div>
<div class="c p" style="left:157px;top:263px;width:31px;height:10px"></div>
<div class="c p" style="left:188px;top:263px;width:32px;height:10px"></div>
<div class="c r" style="left:220px;top:263px;width:31px;height:10px"></div>
<div class="c r" style="left:251px;top:263px;width:31px;height:10px"></div>
<div class="c p" style="left:282px;top:263px;width:32px;height:10px"></div>
<div class="c p" style="left:314px;top:263px;width:31px;height:10px"></div>
<div class="c p" style="left:345px;top:263px;width:32px;height:10px"></div>
<div class="c p" style="left:377px;top:263px;width:31px;height:10px"></div>
<div class="c p" style="left:408px;top:263px;width:32px;height:10px"></div>
<div class="c p" style="left:440px;top:263px;width:31px;height:10px"></div>
<div class="c p" style="left:471px;top:263px;width:32px;height:10px"></div>
<div class="c p" style="left:503px;top:263px;width:31px;height:10px"></div>
<div class="c p" style="left:534px;top:263px;width:31px;height:10px"></div>
<div class="c p" style="left:565px;top:263px;width:32px;height:10px"></div>
<div class="c r" style="left:597px;top:263px;width:31px;height:10px"></div>
<div class="c o x" style="left:628px;top:263px;width:32px;height:10px">X</div>
<div class="c o x" style="left:660px;top:263px;width:31px;height:10px">X</div>
<div class="v" style="left:691px;top:263px;width:96px;height:10px;background:#fcaf79">2000</div>
<div class="l dg" style="left:0;top:273px;width:32px;height:9px"></div>
<div class="c b" style="left:31px;top:273px;width:32px;height:9px"></div>
<div class="c b" style="left:63px;top:273px;width:31px;height:9px"></div>
<div class="c b" style="left:94px;top:273px;width:31px;height:9px"></div>
<div class="c b" style="left:125px;top:273px;width:32px;height:9px"></div>
<div class="c b" style="left:157px;top:273px;width:31px;height:9px"></div>
<div class="c b" style="left:188px;top:273px;width:32px;height:9px"></div>
<div class="c b" style="left:220px;top:273px;width:31px;height:9px"></div>
<div class="c b" style="left:251px;top:273px;width:31px;height:9px"></div>
<div class="c b" style="left:282px;top:273px;width:32px;height:9px"></div>
<div class="c b" style="left:314px;top:273px;width:31px;height:9px"></div>
<div class="c b" style="left:345px;top:273px;width:32px;height:9px"></div>
<div class="c b" style="left:377px;top:273px;width:31px;height:9px"></div>
<div class="c b" style="left:408px;top:273px;width:32px;height:9px"></div>
<div class="c b" style="left:440px;top:273px;width:31px;height:9px"></div>
<div class="c b" style="left:471px;top:273px;width:32px;height:9px"></div>
<div class="c p" style="left:503px;top:273px;width:31px;height:9px"></div>
<div class="c p" style="left:534px;top:273px;width:31px;height:9px"></div>
<div class="c p" style="left:565px;top:273px;width:32px;height:9px"></div>
<div class="c p" style="left:597px;top:273px;width:31px;height:9px"></div>
<div class="c p x" style="left:628px;top:273px;width:32px;height:9px">X</div>
<div class="c p x" style="left:660px;top:273px;width:31px;height:9px">X</div>
<div class="v" style="left:691px;top:273px;width:96px;height:9px;background:#fa9574">2604</div>
<div class="l dg" style="left:0;top:282px;width:32px;height:9px"></div>
<div class="c b" style="left:31px;top:282px;width:32px;height:9px"></div>
<div class="c b" style="left:63px;top:282px;width:31px;height:9px"></div>
<div class="c b" style="left:94px;top:282px;width:31px;height:9px"></div>
<div class="c b" style="left:125px;top:282px;width:32px;height:9px"></div>
<div class="c b" style="left:157px;top:282px;width:31px;height:9px"></div>
<div class="c b" style="left:188px;top:282px;width:32px;height:9px"></div>
<div class="c b" style="left:220px;top:282px;width:31px;height:9px"></div>
<div class="c b" style="left:251px;top:282px;width:31px;height:9px"></div>
<div class="c b" style="left:282px;top:282px;width:32px;height:9px"></div>
<div class="c b" style="left:314px;top:282px;width:31px;height:9px"></div>
<div class="c b" style="left:345px;top:282px;width:32px;height:9px"></div>
<div class="c b" style="left:377px;top:282px;width:31px;height:9px"></div>
<div class="c b" style="left:408px;top:282px;width:32px;height:9px"></div>
<div class="c b" style="left:440px;top:282px;width:31px;height:9px"></div>
<div class="c b" style="left:471px;top:282px;width:32px;height:9px"></div>
<div class="c b" style="left:503px;top:282px;width:31px;height:9px"></div>
<div class="c b" style="left:534px;top:282px;width:31px;height:9px"></div>
<div class="c b" style="left:565px;top:282px;width:32px;height:9px"></div>
<div class="c b x" style="left:597px;top:282px;width:31px;height:9px">X</div>
<div class="c b x" style="left:628px;top:282px;width:32px;height:9px">X</div>
<div class="c b x" style="left:660px;top:282px;width:31px;height:9px">X</div>
<div class="v" style="left:691px;top:282px;width:96px;height:9px;background:#f98170">3077.8</div>
<div class="l dg" style="left:0;top:291px;width:32px;height:9px"></div>
<div class="c b" style="left:31px;top:291px;width:32px;height:9px"></div>
<div class="c b" style="left:63px;top:291px;width:31px;height:9px"></div>
<div class="c b" style="left:94px;top:291px;width:31px;height:9px"></div>
<div class="c b" style="left:125px;top:291px;width:32px;height:9px"></div>
<div class="c p" style="left:157px;top:291px;width:31px;height:9px"></div>
<div class="c b" style="left:188px;top:291px;width:32px;height:9px"></div>
<div class="c b" style="left:220px;top:291px;width:31px;height:9px"></div>
<div class="c b" style="left:251px;top:291px;width:31px;height:9px"></div>
<div class="c b" style="left:282px;top:291px;width:32px;height:9px"></div>
<div class="c b" style="left:314px;top:291px;width:31px;height:9px"></div>
<div class="c b" style="left:345px;top:291px;width:32px;height:9px"></div>
<div class="c b" style="left:377px;top:291px;width:31px;height:9px"></div>
<div class="c b" style="left:408px;top:291px;width:32px;height:9px"></div>
<div class="c b" style="left:440px;top:291px;width:31px;height:9px"></div>
<div class="c b" style="left:471px;top:291px;width:32px;height:9px"></div>
<div class="c b" style="left:503px;top:291px;width:31px;height:9px"></div>
<div class="c b" style="left:534px;top:291px;width:31px;height:9px"></div>
<div class="c b" style="left:565px;top:291px;width:32px;height:9px"></div>
<div class="c b x" style="left:597px;top:291px;width:31px;height:9px">X</div>
<div class="c b x" style="left:628px;top:291px;width:32px;height:9px">X</div>
<div class="c b x" style="left:660px;top:291px;width:31px;height:9px">X</div>
<div class="v" style="left:691px;top:291px;width:96px;height:9px;background:#f9806f">3103.3</div>
<div class="l dg" style="left:0;top:300px;width:32px;height:10px"></div>
<div class="c b" style="left:31px;top:300px;width:32px;height:10px"></div>
<div class="c b" style="left:63px;top:300px;width:31px;height:10px"></div>
<div class="c b" style="left:94px;top:300px;width:31px;height:10px"></div>
<div class="c b" style="left:125px;top:300px;width:32px;height:10px"></div>
<div class="c b" style="left:157px;top:300px;width:31px;height:10px"></div>
<div class="c b" style="left:188px;top:300px;width:32px;height:10px"></div>
<div class="c b" style="left:220px;top:300px;width:31px;height:10px"></div>
<div class="c b" style="left:251px;top:300px;width:31px;height:10px"></div>
<div class="c b" style="left:282px;top:300px;width:32px;height:10px"></div>
<div class="c b" style="left:314px;top:300px;width:31px;height:10px"></div>
<div class="c b" style="left:345px;top:300px;width:32px;height:10px"></div>
<div class="c b" style="left:377px;top:300px;width:31px;height:10px"></div>
<div class="c b" style="left:408px;top:300px;width:32px;height:10px"></div>
<div class="c b" style="left:440px;top:300px;width:31px;height:10px"></div>
<div class="c b" style="left:471px;top:300px;width:32px;height:10px"></div>
<div class="c b" style="left:503px;top:300px;width:31px;height:10px"></div>
<div class="c b" style="left:534px;top:300px;width:31px;height:10px"></div>
<div class="c b" style="left:565px;top:300px;width:32px;height:10px"></div>
<div class="c b x" style="left:597px;top:300px;width:31px;height:10px">X</div>
<div class="c b x" style="left:628px;top:300px;width:32px;height:10px">X</div>
<div class="c b x" style="left:660px;top:300px;width:31px;height:10px">X</div>
<div class="v" style="left:691px;top:300px;width:96px;height:10px;background:#f97d6f">3159</div>
<div class="l dg" style="left:0;top:310px;width:32px;height:9px"></div>
<div class="c b" style="left:31px;top:310px;width:32px;height:9px"></div>
<div class="c b" style="left:63px;top:310px;width:31px;height:9px"></div>
<div class="c b" style="left:94px;top:310px;width:31px;height:9px"></div>
<div class="c b" style="left:125px;top:310px;width:32px;height:9px"></div>
<div class="c b" style="left:157px;top:310px;width:31px;height:9px"></div>
<div class="c b" style="left:188px;top:310px;width:32px;height:9px"></div>
<div class="c b" style="left:220px;top:310px;width:31px;height:9px"></div>
<div class="c b" style="left:251px;top:310px;width:31px;height:9px"></div>
<div class="c b" style="left:282px;top:310px;width:32px;height:9px"></div>
<div class="c b" style="left:314px;top:310px;width:31px;height:9px"></div>
<div class="c b" style="left:345px;top:310px;width:32px;height:9px"></div>
<div class="c b" style="left:377px;top:310px;width:31px;height:9px"></div>
<div class="c b" style="left:408px;top:310px;width:32px;height:9px"></div>
<div class="c b" style="left:440px;top:310px;width:31px;height:9px"></div>
<div class="c b" style="left:471px;top:310px;width:32px;height:9px"></div>
<div class="c b" style="left:503px;top:310px;width:31px;height:9px"></div>
<div class="c b" style="left:534px;top:310px;width:31px;height:9px"></div>
<div class="c b x" style="left:565px;top:310px;width:32px;height:9px">X</div>
<div class="c b x" style="left:597px;top:310px;width:31px;height:9px">X</div>
<div class="c b x" style="left:628px;top:310px;width:32px;height:9px">X</div>
<div class="c b x" style="left:660px;top:310px;width:31px;height:9px">X</div>
<div class="v" style="left:691px;top:310px;width:96px;height:9px;background:#f9746d">3369.6</div>
<div class="l dg" style="left:0;top:319px;width:32px;height:9px"></div>
<div class="c b" style="left:31px;top:319px;width:32px;height:9px"></div>
<div class="c b" style="left:63px;top:319px;width:31px;height:9px"></div>
<div class="c b" style="left:94px;top:319px;width:31px;height:9px"></div>
<div class="c b" style="left:125px;top:319px;width:32px;height:9px"></div>
<div class="c b" style="left:157px;top:319px;width:31px;height:9px"></div>
<div class="c b" style="left:188px;top:319px;width:32px;height:9px"></div>
<div class="c b" style="left:220px;top:319px;width:31px;height:9px"></div>
<div class="c b" style="left:251px;top:319px;width:31px;height:9px"></div>
<div class="c b" style="left:282px;top:319px;width:32px;height:9px"></div>
<div class="c b" style="left:314px;top:319px;width:31px;height:9px"></div>
<div class="c b" style="left:345px;top:319px;width:32px;height:9px"></div>
<div class="c b" style="left:377px;top:319px;width:31px;height:9px"></div>
<div class="c b" style="left:408px;top:319px;width:32px;height:9px"></div>
<div class="c b" style="left:440px;top:319px;width:31px;height:9px"></div>
<div class="c b" style="left:471px;top:319px;width:32px;height:9px"></div>
<div class="c b" style="left:503px;top:319px;width:31px;height:9px"></div>
<div class="c b" style="left:534px;top:319px;width:31px;height:9px"></div>
<div class="c b" style="left:565px;top:319px;width:32px;height:9px"></div>
<div class="c b x" style="left:597px;top:319px;width:31px;height:9px">X</div>
<div class="c b x" style="left:628px;top:319px;width:32px;height:9px">X</div>
<div class="c b x" style="left:660px;top:319px;width:31px;height:9px">X</div>
<div class="v" style="left:691px;top:319px;width:96px;height:9px;background:#f8716d">3439.9</div>
<div class="l dg" style="left:0;top:328px;width:32px;height:9px"></div>
<div class="c b" style="left:31px;top:328px;width:32px;height:9px"></div>
<div class="c b" style="left:63px;top:328px;width:31px;height:9px"></div>
<div class="c b" style="left:94px;top:328px;width:31px;height:9px"></div>
<div class="c b" style="left:125px;top:328px;width:32px;height:9px"></div>
<div class="c b" style="left:157px;top:328px;width:31px;height:9px"></div>
<div class="c b" style="left:188px;top:328px;width:32px;height:9px"></div>
<div class="c b" style="left:220px;top:328px;width:31px;height:9px"></div>
<div class="c b" style="left:251px;top:328px;width:31px;height:9px"></div>
<div class="c b" style="left:282px;top:328px;width:32px;height:9px"></div>
<div class="c b" style="left:314px;top:328px;width:31px;height:9px"></div>
<div class="c b" style="left:345px;top:328px;width:32px;height:9px"></div>
<div class="c b" style="left:377px;top:328px;width:31px;height:9px"></div>
<div class="c b" style="left:408px;top:328px;width:32px;height:9px"></div>
<div class="c b" style="left:440px;top:328px;width:31px;height:9px"></div>
<div class="c b" style="left:471px;top:328px;width:32px;height:9px"></div>
<div class="c b" style="left:503px;top:328px;width:31px;height:9px"></div>
<div class="c b" style="left:534px;top:328px;width:31px;height:9px"></div>
<div class="c b x" style="left:565px;top:328px;width:32px;height:9px">X</div>
<div class="c b x" style="left:597px;top:328px;width:31px;height:9px">X</div>
<div class="c b x" style="left:628px;top:328px;width:32px;height:9px">X</div>
<div class="c b x" style="left:660px;top:328px;width:31px;height:9px">X</div>
<div class="v" style="left:691px;top:328px;width:96px;height:9px;background:#f8696b">3628.1</div>
<div class="l lg" style="left:0;top:337px;width:32px;height:10px"></div>
<div class="c r" style="left:31px;top:337px;width:32px;height:10px"></div>
<div class="c p" style="left:63px;top:337px;width:31px;height:10px"></div>
<div class="c r" style="left:94px;top:337px;width:31px;height:10px"></div>
<div class="c r" style="left:125px;top:337px;width:32px;height:10px"></div>
<div class="c p" style="left:157px;top:337px;width:31px;height:10px"></div>
<div class="c r" style="left:188px;top:337px;width:32px;height:10px"></div>
<div class="c r" style="left:220px;top:337px;width:31px;height:10px"></div>
<div class="c p" style="left:251px;top:337px;width:31px;height:10px"></div>
<div class="c p" style="left:282px;top:337px;width:32px;height:10px"></div>
<div class="c p" style="left:314px;top:337px;width:31px;height:10px"></div>
<div class="c r" style="left:345px;top:337px;width:32px;height:10px"></div>
<div class="c r" style="left:377px;top:337px;width:31px;height:10px"></div>
<div class="c p" style="left:408px;top:337px;width:32px;height:10px"></div>
<div class="c p" style="left:440px;top:337px;width:31px;height:10px"></div>
<div class="c p" style="left:471px;top:337px;width:32px;height:10px"></div>
<div class="c p" style="left:503px;top:337px;width:31px;height:10px"></div>
<div class="c p" style="left:534px;top:337px;width:31px;height:10px"></div>
<div class="c p" style="left:565px;top:337px;width:32px;height:10px"></div>
<div class="c p x" style="left:597px;top:337px;width:31px;height:10px">X</div>
<div class="c p x" style="left:628px;top:337px;width:32px;height:10px">X</div>
<div class="c p x" style="left:660px;top:337px;width:31px;height:10px">X</div>
<div class="v" style="left:691px;top:337px;width:96px;height:10px;background:#808080">DEAD</div>
<div class="l dg" style="left:0;top:347px;width:32px;height:9px"></div>
<div class="c b" style="left:31px;top:347px;width:32px;height:9px"></div>
<div class="c b" style="left:63px;top:347px;width:31px;height:9px"></div>
<div class="c b" style="left:94px;top:347px;width:31px;height:9px"></div>
<div class="c b" style="left:125px;top:347px;width:32px;height:9px"></div>
<div class="c b" style="left:157px;top:347px;width:31px;height:9px"></div>
<div class="c b" style="left:188px;top:347px;width:32px;height:9px"></div>
<div class="c b" style="left:220px;top:347px;width:31px;height:9px"></div>
<div class="c b" style="left:251px;top:347px;width:31px;height:9px"></div>
<div class="c b" style="left:282px;top:347px;width:32px;height:9px"></div>
<div class="c b" style="left:314px;top:347px;width:31px;height:9px"></div>
<div class="c b" style="left:345px;top:347px;width:32px;height:9px"></div>
<div class="c b" style="left:377px;top:347px;width:31px;height:9px"></div>
<div class="c b" style="left:408px;top:347px;width:32px;height:9px"></div>
<div class="c b" style="left:440px;top:347px;width:31px;height:9px"></div>
<div class="c b" style="left:471px;top:347px;width:32px;height:9px"></div>
<div class="c b" style="left:503px;top:347px;width:31px;height:9px"></div>
<div class="c b" style="left:534px;top:347px;width:31px;height:9px"></div>
<div class="c b" style="left:565px;top:347px;width:32px;height:9px"></div>
<div class="c b x" style="left:597px;top:347px;width:31px;height:9px">X</div>
<div class="c b x" style="left:628px;top:347px;width:32px;height:9px">X</div>
<div class="c b x" style="left:660px;top:347px;width:31px;height:9px">X</div>
<div class="v" style="left:691px;top:347px;width:96px;height:9px;background:#808080">DEAD</div>
<div class="l lg" style="left:0;top:356px;width:32px;height:9px"></div>
<div class="c b" style="left:31px;top:356px;width:32px;height:9px"></div>
<div class="c b" style="left:63px;top:356px;width:31px;height:9px"></div>
<div class="c b" style="left:94px;top:356px;width:31px;height:9px"></div>
<div class="c b" style="left:125px;top:356px;width:32px;height:9px"></div>
<div class="c b" style="left:157px;top:356px;width:31px;height:9px"></div>
<div class="c b" style="left:188px;top:356px;width:32px;height:9px"></div>
<div class="c b" style="left:220px;top:356px;width:31px;height:9px"></div>
<div class="c b" style="left:251px;top:356px;width:31px;height:9px"></div>
<div class="c r" style="left:282px;top:356px;width:32px;height:9px"></div>
<div class="c b" style="left:314px;top:356px;width:31px;height:9px"></div>
<div class="c b" style="left:345px;top:356px;width:32px;height:9px"></div>
<div class="c b" style="left:377px;top:356px;width:31px;height:9px"></div>
<div class="c b" style="left:408px;top:356px;width:32px;height:9px"></div>
<div class="c b" style="left:440px;top:356px;width:31px;height:9px"></div>
<div class="c b" style="left:471px;top:356px;width:32px;height:9px"></div>
<div class="c b" style="left:503px;top:356px;width:31px;height:9px"></div>
<div class="c b" style="left:534px;top:356px;width:31px;height:9px"></div>
<div class="c b x" style="left:565px;top:356px;width:32px;height:9px">X</div>
<div class="c b x" style="left:597px;top:356px;width:31px;height:9px">X</div>
<div class="c b x" style="left:628px;top:356px;width:32px;height:9px">X</div>
<div class="c b x" style="left:660px;top:356px;width:31px;height:9px">X</div>
<div class="v" style="left:691px;top:356px;width:96px;height:9px;background:#808080">DEAD</div>
<div class="l dg" style="left:0;top:365px;width:32px;height:9px"></div>
<div class="c b" style="left:31px;top:365px;width:32px;height:9px"></div>
<div class="c b" style="left:63px;top:365px;width:31px;height:9px"></div>
<div class="c p" style="left:94px;top:365px;width:31px;height:9px"></div>
<div class="c b" style="left:125px;top:365px;width:32px;height:9px"></div>
<div class="c p" style="left:157px;top:365px;width:31px;height:9px"></div>
<div class="c p" style="left:188px;top:365px;width:32px;height:9px"></div>
<div class="c p" style="left:220px;top:365px;width:31px;height:9px"></div>
<div class="c p" style="left:251px;top:365px;width:31px;height:9px"></div>
<div class="c r" style="left:282px;top:365px;width:32px;height:9px"></div>
<div class="c p" style="left:314px;top:365px;width:31px;height:9px"></div>
<div class="c b" style="left:345px;top:365px;width:32px;height:9px"></div>
<div class="c b" style="left:377px;top:365px;width:31px;height:9px"></div>
<div class="c b" style="left:408px;top:365px;width:32px;height:9px"></div>
<div class="c b" style="left:440px;top:365px;width:31px;height:9px"></div>
<div class="c b" style="left:471px;top:365px;width:32px;height:9px"></div>
<div class="c b" style="left:503px;top:365px;width:31px;height:9px"></div>
<div class="c b" style="left:534px;top:365px;width:31px;height:9px"></div>
<div class="c b x" style="left:565px;top:365px;width:32px;height:9px">X</div>
<div class="c b x" style="left:597px;top:365px;width:31px;height:9px">X</div>
<div class="c b x" style="left:628px;top:365px;width:32px;height:9px">X</div>
<div class="c b x" style="left:660px;top:365px;width:31px;height:9px">X</div>
<div class="v" style="left:691px;top:365px;width:96px;height:9px;background:#808080">DEAD</div>
<div class="l dg" style="left:0;top:374px;width:32px;height:10px"></div>
<div class="c b" style="left:31px;top:374px;width:32px;height:10px"></div>
<div class="c p" style="left:63px;top:374px;width:31px;height:10px"></div>
<div class="c p" style="left:94px;top:374px;width:31px;height:10px"></div>
<div class="c b" style="left:125px;top:374px;width:32px;height:10px"></div>
<div class="c b" style="left:157px;top:374px;width:31px;height:10px"></div>
<div class="c p" style="left:188px;top:374px;width:32px;height:10px"></div>
<div class="c b" style="left:220px;top:374px;width:31px;height:10px"></div>
<div class="c b" style="left:251px;top:374px;width:31px;height:10px"></div>
<div class="c b" style="left:282px;top:374px;width:32px;height:10px"></div>
<div class="c b" style="left:314px;top:374px;width:31px;height:10px"></div>
<div class="c b" style="left:345px;top:374px;width:32px;height:10px"></div>
<div class="c b" style="left:377px;top:374px;width:31px;height:10px"></div>
<div class="c b" style="left:408px;top:374px;width:32px;height:10px"></div>
<div class="c b" style="left:440px;top:374px;width:31px;height:10px"></div>
<div class="c b" style="left:471px;top:374px;width:32px;height:10px"></div>
<div class="c b" style="left:503px;top:374px;width:31px;height:10px"></div>
<div class="c b" style="left:534px;top:374px;width:31px;height:10px"></div>
<div class="c b x" style="left:565px;top:374px;width:32px;height:10px">X</div>
<div class="c b x" style="left:597px;top:374px;width:31px;height:10px">X</div>
<div class="c b x" style="left:628px;top:374px;width:32px;height:10px">X</div>
<div class="c b x" style="left:660px;top:374px;width:31px;height:10px">X</div>
<div class="v" style="left:691px;top:374px;width:96px;height:10px;background:#808080">DEAD</div>
<div class="l dg" style="left:0;top:384px;width:32px;height:9px"></div>
<div class="c b" style="left:31px;top:384px;width:32px;height:9px"></div>
<div class="c b" style="left:63px;top:384px;width:31px;height:9px"></div>
<div class="c b" style="left:94px;top:384px;width:31px;height:9px"></div>
<div class="c b" style="left:125px;top:384px;width:32px;height:9px"></div>
<div class="c b" style="left:157px;top:384px;width:31px;height:9px"></div>
<div class="c b" style="left:188px;top:384px;width:32px;height:9px"></div>
<div class="c b" style="left:220px;top:384px;width:31px;height:9px"></div>
<div class="c b" style="left:251px;top:384px;width:31px;height:9px"></div>
<div class="c b" style="left:282px;top:384px;width:32px;height:9px"></div>
<div class="c b" style="left:314px;top:384px;width:31px;height:9px"></div>
<div class="c b" style="left:345px;top:384px;width:32px;height:9px"></div>
<div class="c b" style="left:377px;top:384px;width:31px;height:9px"></div>
<div class="c b" style="left:408px;top:384px;width:32px;height:9px"></div>
<div class="c b" style="left:440px;top:384px;width:31px;height:9px"></div>
<div class="c b" style="left:471px;top:384px;width:32px;height:9px"></div>
<div class="c b" style="left:503px;top:384px;width:31px;height:9px"></div>
<div class="c b x" style="left:534px;top:384px;width:31px;height:9px">X</div>
<div class="c b x" style="left:565px;top:384px;width:32px;height:9px">X</div>
<div class="c b x" style="left:597px;top:384px;width:31px;height:9px">X</div>
<div class="c b x" style="left:628px;top:384px;width:32px;height:9px">X</div>
<div class="c b x" style="left:660px;top:384px;width:31px;height:9px">X</div>
<div class="v" style="left:691px;top:384px;width:96px;height:9px;background:#808080">DEAD</div>
<div class="l dg" style="left:0;top:393px;width:32px;height:9px"></div>
<div class="c p" style="left:31px;top:393px;width:32px;height:9px"></div>
<div class="c p" style="left:63px;top:393px;width:31px;height:9px"></div>
<div class="c p" style="left:94px;top:393px;width:31px;height:9px"></div>
<div class="c p" style="left:125px;top:393px;width:32px;height:9px"></div>
<div class="c b" style="left:157px;top:393px;width:31px;height:9px"></div>
<div class="c b" style="left:188px;top:393px;width:32px;height:9px"></div>
<div class="c b" style="left:220px;top:393px;width:31px;height:9px"></div>
<div class="c b" style="left:251px;top:393px;width:31px;height:9px"></div>
<div class="c b" style="left:282px;top:393px;width:32px;height:9px"></div>
<div class="c b" style="left:314px;top:393px;width:31px;height:9px"></div>
<div class="c b" style="left:345px;top:393px;width:32px;height:9px"></div>
<div class="c b" style="left:377px;top:393px;width:31px;height:9px"></div>
<div class="c b" style="left:408px;top:393px;width:32px;height:9px"></div>
<div class="c b" style="left:440px;top:393px;width:31px;height:9px"></div>
<div class="c b" style="left:471px;top:393px;width:32px;height:9px"></div>
<div class="c b" style="left:503px;top:393px;width:31px;height:9px"></div>
<div class="c b x" style="left:534px;top:393px;width:31px;height:9px">X</div>
<div class="c b x" style="left:565px;top:393px;width:32px;height:9px">X</div>
<div class="c b x" style="left:597px;top:393px;width:31px;height:9px">X</div>
<div class="c b x" style="left:628px;top:393px;width:32px;height:9px">X</div>
<div class="c b x" style="left:660px;top:393px;width:31px;height:9px">X</div>
<div class="v" style="left:691px;top:393px;width:96px;height:9px;background:#808080">DEAD</div>
<div class="l dg" style="left:0;top:402px;width:32px;height:9px"></div>
<div class="c b" style="left:31px;top:402px;width:32px;height:9px"></div>
<div class="c b" style="left:63px;top:402px;width:31px;height:9px"></div>
<div class="c b" style="left:94px;top:402px;width:31px;height:9px"></div>
<div class="c b" style="left:125px;top:402px;width:32px;height:9px"></div>
<div class="c b" style="left:157px;top:402px;width:31px;height:9px"></div>
<div class="c b" style="left:188px;top:402px;width:32px;height:9px"></div>
<div class="c b" style="left:220px;top:402px;width:31px;height:9px"></div>
<div class="c b" style="left:251px;top:402px;width:31px;height:9px"></div>
<div class="c b" style="left:282px;top:402px;width:32px;height:9px"></div>
<div class="c b" style="left:314px;top:402px;width:31px;height:9px"></div>
<div class="c b" style="left:345px;top:402px;width:32px;height:9px"></div>
<div class="c b" style="left:377px;top:402px;width:31px;height:9px"></div>
<div class="c b" style="left:408px;top:402px;width:32px;height:9px"></div>
<div class="c b" style="left:440px;top:402px;width:31px;height:9px"></div>
<div class="c b" style="left:471px;top:402px;width:32px;height:9px"></div>
<div class="c b x" style="left:503px;top:402px;width:31px;height:9px">X</div>
<div class="c b x" style="left:534px;top:402px;width:31px;height:9px">X</div>
<div class="c b x" style="left:565px;top:402px;width:32px;height:9px">X</div>
<div class="c b x" style="left:597px;top:402px;width:31px;height:9px">X</div>
<div class="c b x" style="left:628px;top:402px;width:32px;height:9px">X</div>
<div class="c b x" style="left:660px;top:402px;width:31px;height:9px">X</div>
<div class="v" style="left:691px;top:402px;width:96px;height:9px;background:#808080">DEAD</div>
<div class="l dg" style="left:0;top:411px;width:32px;height:10px"></div>
<div class="c b" style="left:31px;top:411px;width:32px;height:10px"></div>
<div class="c b" style="left:63px;top:411px;width:31px;height:10px"></div>
<div class="c b" style="left:94px;top:411px;width:31px;height:10px"></div>
<div class="c b" style="left:125px;top:411px;width:32px;height:10px"></div>
<div class="c b" style="left:157px;top:411px;width:31px;height:10px"></div>
<div class="c b" style="left:188px;top:411px;width:32px;height:10px"></div>
<div class="c b" style="left:220px;top:411px;width:31px;height:10px"></div>
<div class="c b" style="left:251px;top:411px;width:31px;height:10px"></div>
<div class="c b" style="left:282px;top:411px;width:32px;height:10px"></div>
<div class="c b" style="left:314px;top:411px;width:31px;height:10px"></div>
<div class="c b" style="left:345px;top:411px;width:32px;height:10px"></div>
<div class="c b" style="left:377px;top:411px;width:31px;height:10px"></div>
<div class="c b" style="left:408px;top:411px;width:32px;height:10px"></div>
<div class="c b" style="left:440px;top:411px;width:31px;height:10px"></div>
<div class="c b" style="left:471px;top:411px;width:32px;height:10px"></div>
<div class="c b x" style="left:503px;top:411px;width:31px;height:10px">X</div>
<div class="c b x" style="left:534px;top:411px;width:31px;height:10px">X</div>
<div class="c b x" style="left:565px;top:411px;width:32px;height:10px">X</div>
<div class="c b x" style="left:597px;top:411px;width:31px;height:10px">X</div>
<div class="c b x" style="left:628px;top:411px;width:32px;height:10px">X</div>
<div class="c b x" style="left:660px;top:411px;width:31px;height:10px">X</div>
<div class="v" style="left:691px;top:411px;width:96px;height:10px;background:#808080">DEAD</div>
<div class="l dg" style="left:0;top:421px;width:32px;height:9px"></div>
<div class="c b" style="left:31px;top:421px;width:32px;height:9px"></div>
<div class="c b" style="left:63px;top:421px;width:31px;height:9px"></div>
<div class="c b" style="left:94px;top:421px;width:31px;height:9px"></div>
<div class="c b" style="left:125px;top:421px;width:32px;height:9px"></div>
<div class="c b" style="left:157px;top:421px;width:31px;height:9px"></div>
<div class="c b" style="left:188px;top:421px;width:32px;height:9px"></div>
<div class="c b" style="left:220px;top:421px;width:31px;height:9px"></div>
<div class="c b" style="left:251px;top:421px;width:31px;height:9px"></div>
<div class="c b" style="left:282px;top:421px;width:32px;height:9px"></div>
<div class="c b" style="left:314px;top:421px;width:31px;height:9px"></div>
<div class="c b" style="left:345px;top:421px;width:32px;height:9px"></div>
<div class="c b" style="left:377px;top:421px;width:31px;height:9px"></div>
<div class="c b" style="left:408px;top:421px;width:32px;height:9px"></div>
<div class="c b" style="left:440px;top:421px;width:31px;height:9px"></div>
<div class="c b x" style="left:471px;top:421px;width:32px;height:9px">X</div>
<div class="c b x" style="left:503px;top:421px;width:31px;height:9px">X</div>
<div class="c b x" style="left:534px;top:421px;width:31px;height:9px">X</div>
<div class="c b x" style="left:565px;top:421px;width:32px;height:9px">X</div>
<div class="c b x" style="left:597px;top:421px;width:31px;height:9px">X</div>
<div class="c b x" style="left:628px;top:421px;width:32px;height:9px">X</div>
<div class="c b x" style="left:660px;top:421px;width:31px;height:9px">X</div>
<div class="v" style="left:691px;top:421px;width:96px;height:9px;background:#808080">DEAD</div>
<div class="l dg" style="left:0;top:430px;width:32px;height:9px"></div>
<div class="c b" style="left:31px;top:430px;width:32px;height:9px"></div>
<div class="c b" style="left:63px;top:430px;width:31px;height:9px"></div>
<div class="c b" style="left:94px;top:430px;width:31px;height:9px"></div>
<div class="c b" style="left:125px;top:430px;width:32px;height:9px"></div>
<div class="c b" style="left:157px;top:430px;width:31px;height:9px"></div>
<div class="c b" style="left:188px;top:430px;width:32px;height:9px"></div>
<div class="c b" style="left:220px;top:430px;width:31px;height:9px"></div>
<div class="c b" style="left:251px;top:430px;width:31px;height:9px"></div>
<div class="c b" style="left:282px;top:430px;width:32px;height:9px"></div>
<div class="c b" style="left:314px;top:430px;width:31px;height:9px"></div>
<div class="c b" style="left:345px;top:430px;width:32px;height:9px"></div>
<div class="c b" style="left:377px;top:430px;width:31px;height:9px"></div>
<div class="c b x" style="left:408px;top:430px;width:32px;height:9px">X</div>
<div class="c b x" style="left:440px;top:430px;width:31px;height:9px">X</div>
<div class="c b x" style="left:471px;top:430px;width:32px;height:9px">X</div>
<div class="c b x" style="left:503px;top:430px;width:31px;height:9px">X</div>
<div class="c b x" style="left:534px;top:430px;width:31px;height:9px">X</div>
<div class="c b x" style="left:565px;top:430px;width:32px;height:9px">X</div>
<div class="c b x" style="left:597px;top:430px;width:31px;height:9px">X</div>
<div class="c b x" style="left:628px;top:430px;width:32px;height:9px">X</div>
<div class="c b x" style="left:660px;top:430px;width:31px;height:9px">X</div>
<div class="v" style="left:691px;top:430px;width:96px;height:9px;background:#808080">DEAD</div>
<div class="l dg" style="left:0;top:439px;width:32px;height:9px"></div>
<div class="c b" style="left:31px;top:439px;width:32px;height:9px"></div>
<div class="c b" style="left:63px;top:439px;width:31px;height:9px"></div>
<div class="c b" style="left:94px;top:439px;width:31px;height:9px"></div>
<div class="c b" style="left:125px;top:439px;width:32px;height:9px"></div>
<div class="c b" style="left:157px;top:439px;width:31px;height:9px"></div>
<div class="c b" style="left:188px;top:439px;width:32px;height:9px"></div>
<div class="c b" style="left:220px;top:439px;width:31px;height:9px"></div>
<div class="c b" style="left:251px;top:439px;width:31px;height:9px"></div>
<div class="c b" style="left:282px;top:439px;width:32px;height:9px"></div>
<div class="c b" style="left:314px;top:439px;width:31px;height:9px"></div>
<div class="c b" style="left:345px;top:439px;width:32px;height:9px"></div>
<div class="c b x" style="left:377px;top:439px;width:31px;height:9px">X</div>
<div class="c b x" style="left:408px;top:439px;width:32px;height:9px">X</div>
<div class="c b x" style="left:440px;top:439px;width:31px;height:9px">X</div>
<div class="c b x" style="left:471px;top:439px;width:32px;height:9px">X</div>
<div class="c b x" style="left:503px;top:439px;width:31px;height:9px">X</div>
<div class="c b x" style="left:534px;top:439px;width:31px;height:9px">X</div>
<div class="c b x" style="left:565px;top:439px;width:32px;height:9px">X</div>
<div class="c b x" style="left:597px;top:439px;width:31px;height:9px">X</div>
<div class="c b x" style="left:628px;top:439px;width:32px;height:9px">X</div>
<div class="c b x" style="left:660px;top:439px;width:31px;height:9px">X</div>
<div class="v" style="left:691px;top:439px;width:96px;height:9px;background:#808080">DEAD</div>
<div class="l dg" style="left:0;top:448px;width:32px;height:10px"></div>
<div class="c b" style="left:31px;top:448px;width:32px;height:10px"></div>
<div class="c b" style="left:63px;top:448px;width:31px;height:10px"></div>
<div class="c b" style="left:94px;top:448px;width:31px;height:10px"></div>
<div class="c p" style="left:125px;top:448px;width:32px;height:10px"></div>
<div class="c b" style="left:157px;top:448px;width:31px;height:10px"></div>
<div class="c b" style="left:188px;top:448px;width:32px;height:10px"></div>
<div class="c b x" style="left:220px;top:448px;width:31px;height:10px">X</div>
<div class="c b x" style="left:251px;top:448px;width:31px;height:10px">X</div>
<div class="c b x" style="left:282px;top:448px;width:32px;height:10px">X</div>
<div class="c b x" style="left:314px;top:448px;width:31px;height:10px">X</div>
<div class="c b x" style="left:345px;top:448px;width:32px;height:10px">X</div>
<div class="c b x" style="left:377px;top:448px;width:31px;height:10px">X</div>
<div class="c b x" style="left:408px;top:448px;width:32px;height:10px">X</div>
<div class="c b x" style="left:440px;top:448px;width:31px;height:10px">X</div>
<div class="c b x" style="left:471px;top:448px;width:32px;height:10px">X</div>
<div class="c b x" style="left:503px;top:448px;width:31px;height:10px">X</div>
<div class="c b x" style="left:534px;top:448px;width:31px;height:10px">X</div>
<div class="c b x" style="left:565px;top:448px;width:32px;height:10px">X</div>
<div class="c b x" style="left:597px;top:448px;width:31px;height:10px">X</div>
<div class="c b x" style="left:628px;top:448px;width:32px;height:10px">X</div>
<div class="c b x" style="left:660px;top:448px;width:31px;height:10px">X</div>
<div class="v" style="left:691px;top:448px;width:96px;height:10px;background:#808080">DEAD</div>
<div style="left:691px;top:32px;width:1px;height:426px;background:rgba(0,0,0,.35)"></div>
<div style="left:786px;top:3px;width:1px;height:455px;background:rgba(0,0,0,.6)"></div>
<div class="lb" style="left:139px;top:497.8px;letter-spacing:0.4px"><span style="position:relative;top:1.2px">=</span> Mobile</div>
<div class="lb" style="left:382px;top:497.8px;letter-spacing:0.4px"><span style="position:relative;top:1.2px">=</span> Intermediate</div>
<div class="lb" style="left:628.5px;top:497.8px;letter-spacing:0px"><span style="position:relative;top:1.2px">=</span> Fixed</div>
<div class="lb" style="left:240.7px;top:552.8px;letter-spacing:0.25px"><span style="position:relative;top:1.2px">=</span> intended ID</div>
<div class="lb" style="left:494.4px;top:552.8px;letter-spacing:0px"><span style="position:relative;top:1.2px">=</span> intended SC</div>
<svg style="position:absolute;left:0;top:0" width="787" height="577" viewBox="0 0 787 577"><rect x="67.35" y="494.45" width="69.40" height="26.90" fill="#ed1c24" stroke="#231f20" stroke-width="1.1"/><rect x="310.25" y="494.45" width="69.40" height="26.90" fill="#92278f" stroke="#231f20" stroke-width="1.1"/><rect x="553.15" y="494.45" width="69.40" height="26.90" fill="#1c75bc" stroke="#231f20" stroke-width="1.1"/><rect x="169.15" y="549.45" width="69.40" height="26.90" fill="#d1d3d4" stroke="#231f20" stroke-width="1.1"/><rect x="422.85" y="549.45" width="69.40" height="26.90" fill="#58595b" stroke="#231f20" stroke-width="1.1"/></svg>
</div></body></html>
